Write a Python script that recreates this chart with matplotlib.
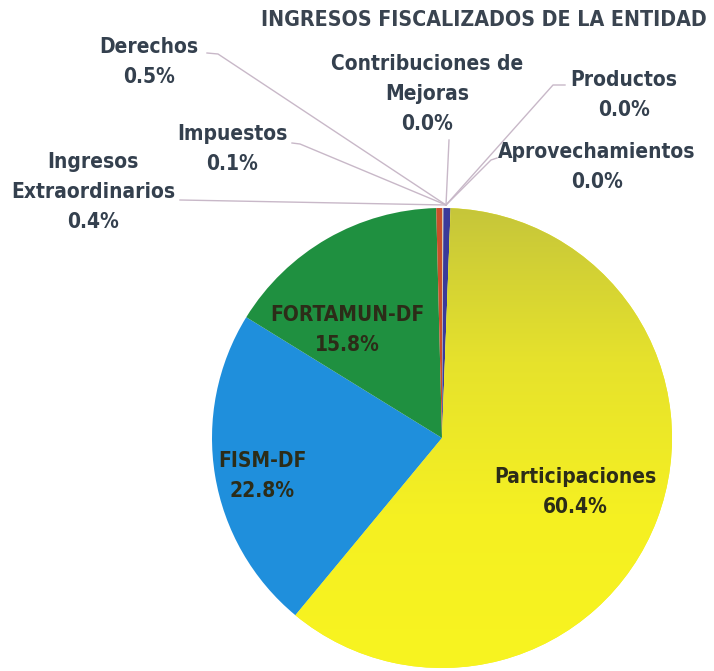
import matplotlib
matplotlib.use("Agg")
import matplotlib.pyplot as plt
import numpy as np
from matplotlib import font_manager
from matplotlib.colors import LinearSegmentedColormap

# ---- data ----
categories = ["Impuestos", "Derechos", "Contribuciones de\nMejoras", "Productos",
              "Aprovechamientos", "Participaciones", "FISM-DF", "FORTAMUN-DF",
              "Ingresos\nExtraordinarios"]
values = [0.1, 0.5, 0.0, 0.0, 0.0, 60.4, 22.8, 15.8, 0.4]
pct_labels = ["0.1%", "0.5%", "0.0%", "0.0%", "0.0%", "60.4%", "22.8%", "15.8%", "0.4%"]
colors = ["#d8c8b0", "#3a3a9a", "#8a8a8a", "#707070", "#606060",
          "#f2ee22", "#1f8fdc", "#1f9040", "#c8502a"]
title = "INGRESOS FISCALIZADOS DE LA ENTIDAD"

W, H = 714, 671
cond_files = [f.fname for f in font_manager.fontManager.ttflist
              if "Condensed" in f.fname and "Bold" in f.fname and "DejaVuSans" in f.fname
              and "Oblique" not in f.fname]
if cond_files:
    fp_bold = font_manager.FontProperties(fname=cond_files[0])
else:
    fp_bold = font_manager.FontProperties(family="DejaVu Sans", weight="bold")

fig = plt.figure(figsize=(W / 100, H / 100), dpi=100)
ax = fig.add_axes([0, 0, 1, 1])


def Y(y):
    return H - y


cx, cy, R = 442, Y(438), 230
wedges, _ = ax.pie(values, colors=colors, startangle=90, counterclock=False,
                   center=(cx, cy), radius=R, frame=True,
                   wedgeprops=dict(linewidth=0))
ax.set_xlim(0, W)
ax.set_ylim(0, H)
ax.set_aspect("equal")
ax.axis("off")

# gradient on Participaciones
grad = np.linspace(0, 1, 256).reshape(-1, 1)
cm = LinearSegmentedColormap.from_list("y", ["#f8f420", "#f5f022", "#e6e22c", "#c6c63a"])
im = ax.imshow(grad, extent=(cx - R, cx + R, cy - R, cy + R), origin="lower",
               cmap=cm, aspect="auto", zorder=1.5)
im.set_clip_path(wedges[5])
wedges[5].set_zorder(1)

txt_c = "#34404e"
fs = 15
kw = dict(color=txt_c, ha="center", va="center", linespacing=1.6)


def T(x, y, s, size, **k):
    fp = fp_bold.copy()
    fp.set_size(size)
    d = dict(kw)
    d["fontproperties"] = fp
    d.update(k)
    return ax.text(x, Y(y), s, **d)


T(484, 20, title, 15.3, color="#3a4450")

apex = (446, Y(205))
line_c = "#c8b8c8"
outs = [
    (1, 149, 62, [(207, 53), (218, 54)]),
    (2, 427, 94, [(449, 140)]),
    (3, 624, 95, [(565, 85), (553, 85)]),
    (0, 232, 149, [(292, 143), (300, 144)]),
    (4, 597, 167, [(497, 158), (491, 160)]),
    (8, 93, 192, [(180, 200)]),
]
for i, x, y, pts in outs:
    T(x, y, categories[i] + "\n" + pct_labels[i], fs)
    xs = [p[0] for p in pts] + [apex[0]]
    ys = [Y(p[1]) for p in pts] + [apex[1]]
    ax.plot(xs, ys, color=line_c, lw=1.0, zorder=0.5)

inner_c = "#2c2c18"
ins = [(7, 347, 330), (6, 262, 476), (5, 575, 492)]
for i, x, y in ins:
    T(x, y, categories[i] + "\n" + pct_labels[i], fs, color=inner_c, zorder=5)

fig.savefig("out.png", dpi=100)
